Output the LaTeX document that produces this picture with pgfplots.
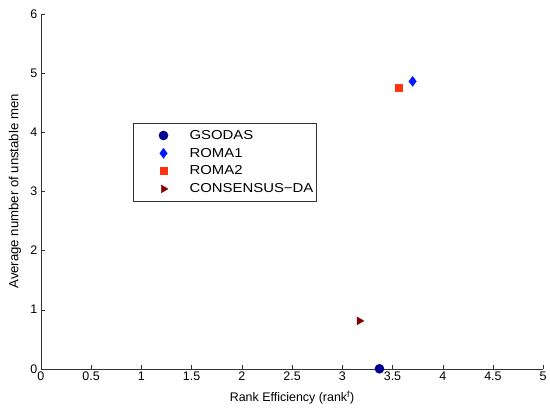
\documentclass[border=0pt]{standalone}
\usepackage{pgfplots}
\pgfplotsset{compat=1.18}
\usepackage{fontspec}
\setmainfont{Liberation Sans}
\newfontfamily\legfont[FakeStretch=1.15]{Liberation Sans}
\definecolor{gsodas}{rgb}{0,0,0.55}
\definecolor{romaone}{rgb}{0,0.1,1}
\definecolor{romatwo}{rgb}{1,0.2,0.05}
\definecolor{consensus}{rgb}{0.5,0,0}
\begin{document}
\begin{tikzpicture}
\begin{axis}[
    name=main,
    scale only axis,
    width=504pt,
    height=356pt,
    xmin=0, xmax=5,
    ymin=0, ymax=6,
    xtick={0,0.5,...,5},
    ytick={0,1,...,6},
    axis lines=left,
    axis line style={-, black!80},
    tick align=inside,
    major tick length=4pt,
    tick style={black!80},
    /pgf/number format/assume math mode=true,
    tick label style={font=\fontsize{12.5}{14}\selectfont},
    xlabel={Rank Efficiency (rank\textsuperscript{f})},
    ylabel={Average number of unstable men},
    xlabel style={font=\fontsize{12.5}{14}\selectfont,
        at={(axis description cs:0.5,-0.0815)}, anchor=center},
    ylabel style={font=\fontsize{13.2}{15}\selectfont,
        at={(axis description cs:-0.0516,0.5)}, anchor=center},
    clip=false,
    legend cell align=left,
    legend style={at={(0.1825,0.694)}, anchor=north west,
        draw=black!80, font=\legfont\fontsize{13}{15}\selectfont,
        inner xsep=1pt, inner ysep=5.5pt, row sep=3.3pt},
    legend image code/.code={\path[draw=none] (0,0) -- (1.9cm,0);
        \draw[#1] plot coordinates {(1.05cm,0cm)};},
]
\addplot[only marks, mark=*, mark size=4.6pt, color=gsodas] coordinates {(3.37,0)};
\addlegendentry{GSODAS}
\addplot[only marks, mark=diamond*, mark size=5pt, color=romaone] coordinates {(3.70,4.86)};
\addlegendentry{ROMA1}
\addplot[only marks, mark=square*, mark size=3.5pt, color=romatwo] coordinates {(3.56,4.76)};
\addlegendentry{ROMA2}
\addplot[only marks, mark=triangle*, mark options={rotate=-90}, mark size=4.5pt, color=consensus] coordinates {(3.17,0.81)};
\addlegendentry{CONSENSUS−DA}
\end{axis}
\path (main.south west) ++(-41pt,-38pt);
\path (main.north east) ++(5pt,14pt);
\end{tikzpicture}
\end{document}
